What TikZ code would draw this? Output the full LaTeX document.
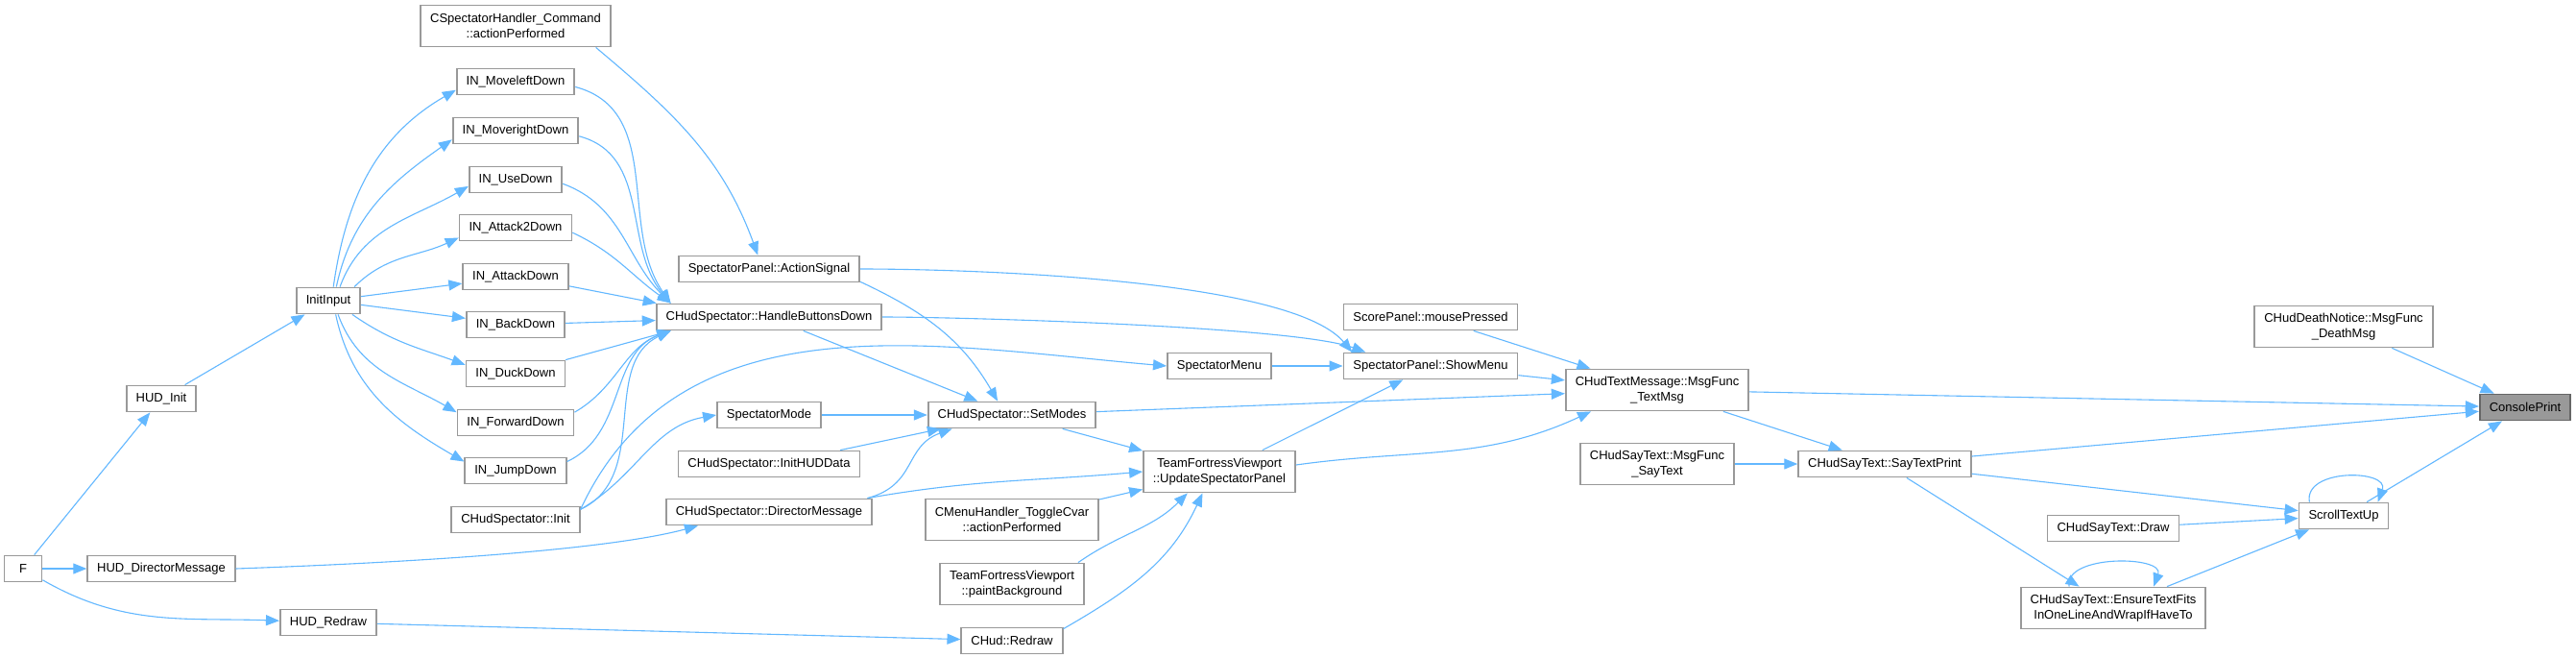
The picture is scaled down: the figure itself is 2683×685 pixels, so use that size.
\documentclass[tikz,border=0pt]{standalone}
\usepackage{fontspec}
\setmainfont{Liberation Sans}
\usetikzlibrary{arrows.meta}
\definecolor{edgeblue}{HTML}{63B8FF}
\definecolor{boxgray}{HTML}{999999}
\definecolor{rootgray}{HTML}{666666}

\begin{document}
\begin{tikzpicture}[
    x=1pt, y=-1pt,
    font=\fontsize{13}{16}\selectfont,
    box/.style={draw=boxgray, line width=1.8pt, rectangle, fill=white, minimum height=27pt, minimum width=39pt, inner xsep=10pt, inner ysep=3pt, align=center},
    tallbox/.style={box, minimum height=43pt},
    rootbox/.style={box, draw=rootgray, fill=boxgray},
    arrow/.style={->, line width=1.1pt, draw=edgeblue, >={Triangle[length=14pt,width=11pt]}}
]
    \path[use as bounding box, fill=white] (0,0) rectangle (2683,685);

    \node[box] (f) at (24,592) {F};
    \node[box] (hudinit) at (168,415) {HUD\_Init};
    \node[box] (huddirmsg) at (168,592) {HUD\_DirectorMessage};
    \node[box] (initinput) at (342,313) {InitInput};
    \node[box] (hudredraw) at (342,648) {HUD\_Redraw};

    \node[tallbox] (cmdact) at (537,27) {CSpectatorHandler\_Command\\::actionPerformed};
    \node[box] (moveleft) at (537,85) {IN\_MoveleftDown};
    \node[box] (moveright) at (537,136) {IN\_MoverightDown};
    \node[box] (use) at (537,187) {IN\_UseDown};
    \node[box] (attack2) at (537,237) {IN\_Attack2Down};
    \node[box] (attack) at (537,288) {IN\_AttackDown};
    \node[box] (back) at (537,338) {IN\_BackDown};
    \node[box] (duck) at (537,389) {IN\_DuckDown};
    \node[box] (forward) at (537,440) {IN\_ForwardDown};
    \node[box] (jump) at (537,490) {IN\_JumpDown};
    \node[box] (specinit) at (537,541) {CHudSpectator::Init};

    \node[box] (actsignal) at (801,280) {SpectatorPanel::ActionSignal};
    \node[box] (handlebtn) at (801,330) {CHudSpectator::HandleButtonsDown};
    \node[box] (specmode) at (801,432) {SpectatorMode};
    \node[box] (inithud) at (801,483) {CHudSpectator::InitHUDData};
    \node[box] (dirmsg) at (801,533) {CHudSpectator::DirectorMessage};

    \node[box] (setmodes) at (1054,432) {CHudSpectator::SetModes};
    \node[tallbox] (togglecvar) at (1054,541) {CMenuHandler\_ToggleCvar\\::actionPerformed};
    \node[tallbox] (paintbg) at (1054,608) {TeamFortressViewport\\::paintBackground};
    \node[box] (chudredraw) at (1054,667) {CHud::Redraw};

    \node[box] (specmenu) at (1270,381) {SpectatorMenu};
    \node[tallbox] (updpanel) at (1270,491) {TeamFortressViewport\\::UpdateSpectatorPanel};

    \node[box] (scorepanel) at (1490,330) {ScorePanel::mousePressed};
    \node[box] (showmenu) at (1490,381) {SpectatorPanel::ShowMenu};

    \node[tallbox] (textmsg) at (1726,406) {CHudTextMessage::MsgFunc\\\_TextMsg};
    \node[tallbox] (saytext) at (1726,483) {CHudSayText::MsgFunc\\\_SayText};
    \node[box] (saytextprint) at (1963,483) {CHudSayText::SayTextPrint};
    \node[box] (draw) at (2201,550) {CHudSayText::Draw};
    \node[tallbox] (ensure) at (2201,633) {CHudSayText::EnsureTextFits\\InOneLineAndWrapIfHaveTo};
    \node[tallbox] (deathmsg) at (2441,340) {CHudDeathNotice::MsgFunc\\\_DeathMsg};
    \node[box] (scroll) at (2441,537) {ScrollTextUp};
    \node[rootbox] (console) at (2630,424) {ConsolePrint};

    \draw[arrow] (f) -- (hudinit);
    \draw[arrow] (f) -- (huddirmsg);
    \draw[arrow] (f) to[out=-30,in=178] (hudredraw);
    \draw[arrow] (hudinit) -- (initinput);

    \draw[arrow] (initinput.70) to[out=82,in=210] (moveleft.188);
    \draw[arrow] (initinput.60) to[out=78,in=215] (moveright.188);
    \draw[arrow] (initinput.50) to[out=70,in=210] (use.188);
    \draw[arrow] (initinput.28) to[out=45,in=205] (attack2.190);
    \draw[arrow] (initinput) -- (attack);
    \draw[arrow] (initinput) -- (back);
    \draw[arrow] (initinput.-30) to[out=-35,in=160] (duck.170);
    \draw[arrow] (initinput.-55) to[out=-70,in=150] (forward.170);
    \draw[arrow] (initinput.-62) to[out=-78,in=150] (jump.170);

    \draw[arrow] (cmdact.-15) to[out=-40,in=110] (actsignal.129);
    \draw[arrow] (moveleft.-5) to[out=-15,in=125] (handlebtn.172);
    \draw[arrow] (moveright.-5) to[out=-15,in=130] (handlebtn.172);
    \draw[arrow] (use.-5) to[out=-20,in=135] (handlebtn.172);
    \draw[arrow] (attack2.-5) to[out=-25,in=145] (handlebtn.172);
    \draw[arrow] (attack.-10) -- (handlebtn.173);
    \draw[arrow] (back) -- (handlebtn);
    \draw[arrow] (duck) -- (handlebtn.188);
    \draw[arrow] (forward.10) to[out=30,in=200] (handlebtn.188);
    \draw[arrow] (jump.10) to[out=25,in=200] (handlebtn.188);
    \draw[arrow] (specinit.9) to[out=25,in=205] (handlebtn.188);
    \draw[arrow] (specinit.9) to[out=30,in=190] (specmode.west);
    \draw[arrow] (specinit.9) to[out=65,in=175] (specmenu.west);
    \draw[arrow] (huddirmsg.east) to[out=2,in=195,looseness=0.6] (dirmsg.191);
    \draw[arrow] (hudredraw) -- (chudredraw);

    \draw[arrow] (actsignal.-8) to[out=-25,in=120] (setmodes.136);
    \draw[arrow] (actsignal.east) to[out=0,in=130,looseness=0.5] (showmenu.170);
    \draw[arrow] (handlebtn) -- (setmodes);
    \draw[arrow] (handlebtn.east) to[out=0,in=160,looseness=0.4] (showmenu.168);
    \draw[arrow] (specmode) -- (setmodes);
    \draw[arrow] (inithud.11) -- (setmodes.191);
    \draw[arrow] (dirmsg.8) to[out=15,in=200,looseness=1.2] (setmodes.193);
    \draw[arrow] (dirmsg.8) to[out=10,in=185] (updpanel.west);

    \draw[arrow] (setmodes) -- (updpanel);
    \draw[arrow] (setmodes) -- (textmsg);
    \draw[arrow] (togglecvar) -- (updpanel);
    \draw[arrow] (paintbg.18) to[out=35,in=225] (updpanel.214);
    \draw[arrow] (chudredraw.13) to[out=30,in=245] (updpanel.232);
    \draw[arrow] (specmenu) -- (showmenu);
    \draw[arrow] (updpanel) -- (showmenu);
    \draw[arrow] (updpanel.5) to[out=8,in=205] (textmsg.198);
    \draw[arrow] (scorepanel) -- (textmsg);
    \draw[arrow] (showmenu) -- (textmsg);

    \draw[arrow] (textmsg) -- (console);
    \draw[arrow] (textmsg) -- (saytextprint);
    \draw[arrow] (saytext) -- (saytextprint);
    \draw[arrow] (saytextprint) -- (console);
    \draw[arrow] (saytextprint) -- (scroll);
    \draw[arrow] (saytextprint) -- (ensure);
    \draw[arrow] (draw) -- (scroll);
    \draw[arrow] (ensure) -- (scroll);
    \draw[arrow] (ensure.154) to[out=100,in=70] (ensure.28);
    \draw[arrow] (scroll.158) to[out=100,in=70,looseness=1.3] (scroll.22);
    \draw[arrow] (scroll) -- (console);
    \draw[arrow] (deathmsg) -- (console);
\end{tikzpicture}
\end{document}
